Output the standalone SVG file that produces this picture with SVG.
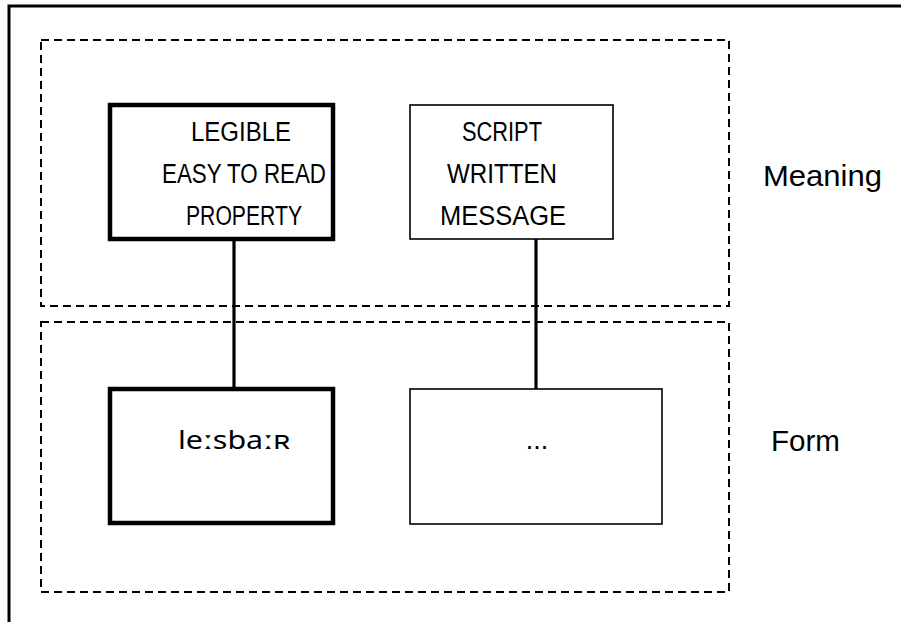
<svg xmlns="http://www.w3.org/2000/svg" width="901" height="622" viewBox="0 0 901 622">
  <style>
    .frame { fill: none; stroke: #000; stroke-width: 3; }
    .layer { fill: none; stroke: #000; stroke-width: 2; stroke-dasharray: 8 5; }
    .box { fill: #fff; stroke: #000; stroke-width: 1.6; }
    .box.bold { stroke-width: 4.5; }
    .link { stroke: #000; stroke-width: 3.2; fill: none; }
    text { font-family: "Liberation Sans", Arial, sans-serif; fill: #000; }
    .label { font-size: 27px; text-anchor: middle; }
    .ipa { font-family: "Noto Sans", "DejaVu Sans", sans-serif; font-size: 25px; text-anchor: middle; }
    .side { font-size: 30px; }
  </style>

  <rect width="901" height="622" fill="#fff"/>

  <!-- outer frame: top and left edges only -->
  <path class="frame" d="M9 622 V6 H901"/>

  <!-- layer regions -->
  <g id="meaning-layer">
    <rect class="layer" x="41" y="40" width="688" height="266"/>
    <text class="side" x="763" y="186" textLength="119" lengthAdjust="spacingAndGlyphs">Meaning</text>
  </g>
  <g id="form-layer">
    <rect class="layer" x="41" y="322" width="688" height="270"/>
    <text class="side" x="771" y="451" textLength="69" lengthAdjust="spacingAndGlyphs">Form</text>
  </g>

  <!-- connectors -->
  <g id="connectors">
    <line class="link" x1="234" y1="239" x2="234" y2="389"/>
    <line class="link" x1="536" y1="239" x2="536" y2="389"/>
  </g>

  <g id="node-legible">
    <rect class="box bold" x="110" y="105" width="223" height="134"/>
    <text class="label" x="241" y="141" textLength="100" lengthAdjust="spacingAndGlyphs">LEGIBLE</text>
    <text class="label" x="244" y="183" textLength="164" lengthAdjust="spacingAndGlyphs">EASY TO READ</text>
    <text class="label" x="244" y="225" textLength="116" lengthAdjust="spacingAndGlyphs">PROPERTY</text>
  </g>

  <g id="node-script">
    <rect class="box" x="410" y="105" width="203" height="134"/>
    <text class="label" x="502" y="141" textLength="80" lengthAdjust="spacingAndGlyphs">SCRIPT</text>
    <text class="label" x="502" y="183" textLength="110" lengthAdjust="spacingAndGlyphs">WRITTEN</text>
    <text class="label" x="503" y="225" textLength="126" lengthAdjust="spacingAndGlyphs">MESSAGE</text>
  </g>

  <g id="node-lesbar">
    <rect class="box bold" x="110" y="389" width="223" height="134"/>
    <text class="ipa" x="234" y="449" textLength="112" lengthAdjust="spacingAndGlyphs">leːsbaːʀ</text>
  </g>

  <g id="node-ellipsis">
    <rect class="box" x="410" y="389" width="252" height="135"/>
    <text class="label" x="537" y="449">...</text>
  </g>
</svg>
